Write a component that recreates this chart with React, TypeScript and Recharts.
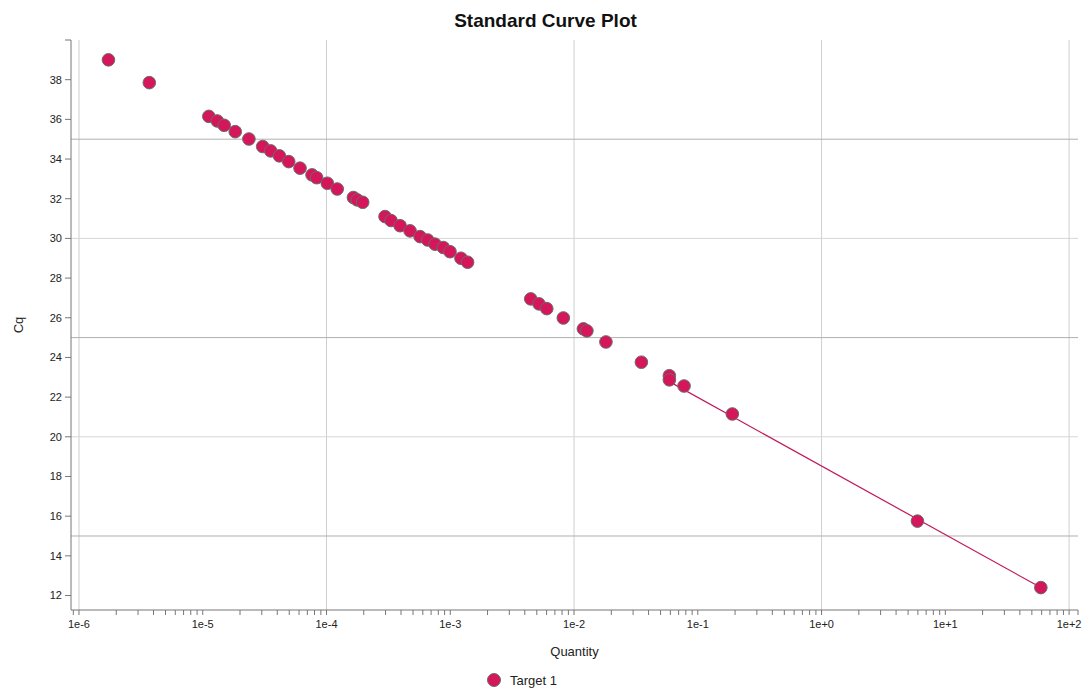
import {
  ScatterChart,
  Scatter,
  XAxis,
  YAxis,
  ReferenceLine,
  Legend,
} from 'recharts';

// Quantity values of the standards
const quantities = [
  1.73e-6, 3.7e-6, 1.12e-5, 1.31e-5, 1.49e-5, 1.83e-5, 2.36e-5, 3.05e-5, 3.54e-5, 4.16e-5,
  4.95e-5, 6.11e-5, 7.64e-5, 8.33e-5, 1.015e-4, 1.22e-4, 1.65e-4, 1.77e-4, 1.96e-4, 2.97e-4,
  3.32e-4, 3.93e-4, 4.73e-4, 5.7e-4, 6.57e-4, 7.53e-4, 8.79e-4, 9.95e-4, 1.22e-3, 1.38e-3,
  4.47e-3, 5.21e-3, 6.02e-3, 8.19e-3, 1.19e-2, 1.27e-2, 1.81e-2, 3.5e-2, 5.89e-2, 5.89e-2,
  7.74e-2, 0.19, 5.95, 59.1,
];

// Cq values, same order
const cqValues = [
  39.0, 37.85, 36.15, 35.92, 35.7, 35.38, 35.01, 34.63, 34.41, 34.16,
  33.87, 33.54, 33.2, 33.06, 32.78, 32.49, 32.06, 31.94, 31.82, 31.1,
  30.9, 30.64, 30.38, 30.09, 29.92, 29.71, 29.54, 29.33, 29.0, 28.8,
  26.95, 26.7, 26.46, 25.99, 25.44, 25.34, 24.78, 23.76, 23.08, 22.87,
  22.56, 21.15, 15.75, 12.4,
];

// standard curve fit line end points
const fitQuantities = [5.89e-2, 59.1];
const fitCq = [22.78, 12.4];

const decadeTicks = [1e-6, 1e-5, 1e-4, 1e-3, 1e-2, 1e-1, 1e0, 1e1, 1e2];
const gridDecades = [1e-6, 1e-4, 1e-2, 1e0, 1e2];
const yTicks = [12, 14, 16, 18, 20, 22, 24, 26, 28, 30, 32, 34, 36, 38, 40];
const darkGridY = [15, 25, 35];
const lightGridY = [20, 30];

const X_DOMAIN: [number, number] = [8.62e-7, 118];
const Y_DOMAIN: [number, number] = [11.27, 40];

// minor log ticks (1..9 per decade) inside the domain
const xTicks: number[] = [];
for (let d = -7; d <= 2; d++) {
  for (let m = 1; m <= 9; m++) {
    const v = parseFloat((m * Math.pow(10, d)).toPrecision(3));
    if (v >= X_DOMAIN[0] && v <= X_DOMAIN[1]) xTicks.push(v);
  }
}
xTicks.push(X_DOMAIN[1]);

const points = quantities.map((q, i) => ({ q, cq: cqValues[i] }));
const fitLine = fitQuantities.map((q, i) => ({ q, cq: fitCq[i] }));

const FONT = '"Liberation Sans", Arial, Helvetica, sans-serif';
const POINT_FILL = '#D5165B';

const formatX = (v: number) =>
  decadeTicks.some((d) => Math.abs(d - v) / d < 1e-6) ? v.toExponential() : '';

const Dot = (props: any) => (
  <circle cx={props.cx} cy={props.cy} r={6.3} fill={POINT_FILL} stroke="#6b6b6b" strokeWidth={1} />
);

const NoDot = () => <g />;

export default function App() {
  return (
    <div style={{ position: 'absolute', left: 0, top: 0, width: 1091, height: 691, background: '#fff', fontFamily: FONT }}>
      <div
        style={{
          position: 'absolute',
          top: 10,
          width: 1091,
          textAlign: 'center',
          fontWeight: 'bold',
          fontSize: 19,
          color: '#111',
        }}
      >
        Standard Curve Plot
      </div>
      <ScatterChart width={1091} height={691} margin={{ top: 40, right: 13, bottom: 31, left: 0 }}>
        {gridDecades.map((d) => (
          <ReferenceLine key={'vx' + d} x={d} stroke="#cfcfcf" strokeWidth={1} ifOverflow="extendDomain" />
        ))}
        {darkGridY.map((y) => (
          <ReferenceLine key={'dy' + y} y={y} stroke="#b0b0b0" strokeWidth={1} />
        ))}
        {lightGridY.map((y) => (
          <ReferenceLine key={'ly' + y} y={y} stroke="#d6d6d6" strokeWidth={1} />
        ))}
        <XAxis
          type="number"
          dataKey="q"
          scale="log"
          domain={X_DOMAIN}
          allowDataOverflow
          ticks={xTicks}
          interval={0}
          tickFormatter={formatX}
          height={50}
          tickSize={5}
          tickMargin={5}
          stroke="#777"
          tick={{ fill: '#222', fontSize: 11, fontFamily: FONT }}
          label={(p: any) => {
            const vb = p.viewBox;
            return (
              <text x={vb.x + vb.width / 2} y={vb.y + 46} textAnchor="middle" fontSize={13} fill="#222" fontFamily={FONT}>
                Quantity
              </text>
            );
          }}
        />
        <YAxis
          type="number"
          dataKey="cq"
          domain={Y_DOMAIN}
          allowDataOverflow
          ticks={yTicks}
          interval={0}
          tickFormatter={(v: number) => (v === 40 ? '' : String(v))}
          width={71}
          tickSize={6}
          tickMargin={3}
          stroke="#777"
          tick={{ fill: '#222', fontSize: 11, fontFamily: FONT }}
          label={(p: any) => {
            const vb = p.viewBox;
            const cx = vb.x + 18;
            const cy = vb.y + vb.height / 2;
            return (
              <text
                x={cx}
                y={cy}
                transform={`rotate(-90 ${cx} ${cy})`}
                textAnchor="middle"
                dominantBaseline="central"
                fontSize={13}
                fill="#222"
                fontFamily={FONT}
              >
                Cq
              </text>
            );
          }}
        />
        <Scatter
          data={fitLine}
          line={{ stroke: '#C2185B', strokeWidth: 1.2 }}
          shape={NoDot}
          legendType="none"
          isAnimationActive={false}
        />
        <Scatter name="Target 1" data={points} shape={Dot} isAnimationActive={false} />
        <Legend
          verticalAlign="middle"
          align="center"
          layout="horizontal"
          wrapperStyle={{ top: 672, left: -25, width: 1091 }}
          content={() => (
            <div style={{ display: 'flex', justifyContent: 'center', alignItems: 'center', fontFamily: FONT }}>
              <svg width={16} height={16} style={{ marginRight: 8, marginLeft: 2 }}>
                <circle cx={8} cy={8} r={6.5} fill={POINT_FILL} stroke="#6b6b6b" strokeWidth={1} />
              </svg>
              <span style={{ fontSize: 13, color: '#222' }}>Target 1</span>
            </div>
          )}
        />
      </ScatterChart>
    </div>
  );
}
